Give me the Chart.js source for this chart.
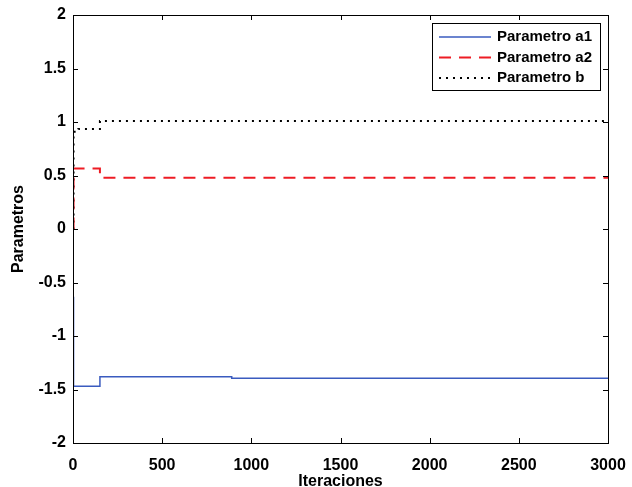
<!DOCTYPE html>
<html>
<head>
<meta charset="utf-8">
<script src="https://cdn.jsdelivr.net/npm/chart.js@4/dist/chart.umd.min.js"></script>
<style>
    html, body { margin: 0; padding: 0; background: #ffffff; }
    #wrap { width: 632px; height: 487px; position: relative; }
</style>
</head>
<body>
<div id="wrap"><canvas id="chart"></canvas></div>
<script>
// series breakpoints (iteration, value)
var iterA1 = [0, 3, 151, 890, 3000];
var valA1 = [-0.64, -1.47, -1.38, -1.395, -1.395];
var iterA2 = [0, 3, 151, 3000];
var valA2 = [0, 0.565, 0.48, 0.48];
var iterB = [0, 3, 30, 151, 3000];
var valB = [0, 0.91, 0.935, 1.01, 1.01];

var seriesNames = ["Parametro a1", "Parametro a2", "Parametro b"];
var xTicks = [0, 500, 1000, 1500, 2000, 2500, 3000];
var yTicks = [-2, -1.5, -1, -0.5, 0, 0.5, 1, 1.5, 2];

var FONT = "'Liberation Sans', Arial, sans-serif";

function toPoints(xs, ys) {
    var pts = [];
    for (var i = 0; i < xs.length; i++) pts.push({ x: xs[i], y: ys[i] });
    return pts;
}

// box round the plot, inward ticks on all four sides, legend box
var framePlugin = {
    id: "frame",
    afterDatasetsDraw: function (chart) {
        var ctx = chart.ctx, a = chart.chartArea;
        var sx = chart.scales.x, sy = chart.scales.y, tl = 5, i, p;
        ctx.save();
        ctx.strokeStyle = "#000000";
        ctx.lineWidth = 1;
        ctx.setLineDash([]);
        ctx.beginPath();
        for (i = 0; i < xTicks.length; i++) {
            p = Math.round(sx.getPixelForValue(xTicks[i])) + 0.5;
            ctx.moveTo(p, a.bottom); ctx.lineTo(p, a.bottom - tl);
            ctx.moveTo(p, a.top); ctx.lineTo(p, a.top + tl);
        }
        for (i = 0; i < yTicks.length; i++) {
            p = Math.round(sy.getPixelForValue(yTicks[i])) + 0.5;
            ctx.moveTo(a.left, p); ctx.lineTo(a.left + tl, p);
            ctx.moveTo(a.right, p); ctx.lineTo(a.right - tl, p);
        }
        ctx.stroke();
        ctx.strokeRect(Math.round(a.left) + 0.5, Math.round(a.top) + 0.5,
            Math.round(a.right - a.left), Math.round(a.bottom - a.top));

        // legend
        var lx = 432, ly = 23, lw = 168, lh = 67;
        ctx.fillStyle = "#ffffff";
        ctx.fillRect(lx, ly, lw, lh);
        ctx.strokeRect(lx + 0.5, ly + 0.5, lw, lh);
        ctx.font = "bold 15px " + FONT;
        ctx.textBaseline = "middle";
        ctx.textAlign = "left";
        var rows = [37, 57.5, 78];
        for (i = 0; i < chart.data.datasets.length; i++) {
            var ds = chart.data.datasets[i];
            ctx.strokeStyle = ds.borderColor;
            ctx.lineWidth = ds.borderWidth;
            ctx.setLineDash(ds.borderDash || []);
            ctx.beginPath();
            ctx.moveTo(439, rows[i]);
            ctx.lineTo(491, rows[i]);
            ctx.stroke();
            ctx.fillStyle = "#000000";
            ctx.fillText(ds.label, 497, rows[i]);
        }
        ctx.restore();
    }
};

var ctx = document.getElementById("chart").getContext("2d");
var chart = new Chart(ctx, {
    type: "line",
    data: {
        datasets: [
            {
                label: seriesNames[0],
                data: toPoints(iterA1, valA1),
                borderColor: "#3a5bbf",
                borderWidth: 1.5,
                stepped: "before"
            },
            {
                label: seriesNames[1],
                data: toPoints(iterA2, valA2),
                borderColor: "#ee1c24",
                borderWidth: 2,
                borderDash: [12, 8],
                stepped: "before"
            },
            {
                label: seriesNames[2],
                data: toPoints(iterB, valB),
                borderColor: "#000000",
                borderWidth: 2,
                borderDash: [2, 5],
                stepped: "before"
            }
        ]
    },
    options: {
        responsive: true,
        maintainAspectRatio: false,
        animation: false,
        layout: { padding: { top: 15, right: 24, left: 0, bottom: 0 } },
        elements: { point: { radius: 0 } },
        plugins: {
            legend: { display: false },
            tooltip: { enabled: false }
        },
        scales: {
            x: {
                type: "linear",
                min: 0,
                max: 3000,
                grid: { display: false, drawTicks: false },
                border: { display: false },
                afterBuildTicks: function (scale) {
                    scale.ticks = xTicks.map(function (v) { return { value: v }; });
                },
                afterFit: function (scale) {
                    scale.height = 44;
                    scale.paddingLeft = 0;
                    scale.paddingRight = 0;
                },
                ticks: {
                    padding: 13,
                    color: "#000000",
                    maxRotation: 0,
                    font: { family: FONT, size: 16, weight: "bold" },
                    callback: function (v) { return String(v); }
                },
                title: {
                    display: true,
                    text: "Iteraciones",
                    color: "#000000",
                    padding: { top: 0, bottom: -4 },
                    font: { family: FONT, size: 16, weight: "bold" }
                }
            },
            y: {
                type: "linear",
                min: -2,
                max: 2,
                grid: { display: false, drawTicks: false },
                border: { display: false },
                afterBuildTicks: function (scale) {
                    scale.ticks = yTicks.map(function (v) { return { value: v }; });
                },
                afterFit: function (scale) {
                    scale.width = 73;
                    scale.paddingTop = 0;
                    scale.paddingBottom = 0;
                },
                ticks: {
                    padding: 7,
                    color: "#000000",
                    font: { family: FONT, size: 16, weight: "bold" },
                    callback: function (v) { return String(v); }
                },
                title: {
                    display: true,
                    text: "Parametros",
                    color: "#000000",
                    padding: { top: 9, bottom: 0 },
                    font: { family: FONT, size: 16, weight: "bold" }
                }
            }
        }
    },
    plugins: [framePlugin]
});
</script>
</body>
</html>
